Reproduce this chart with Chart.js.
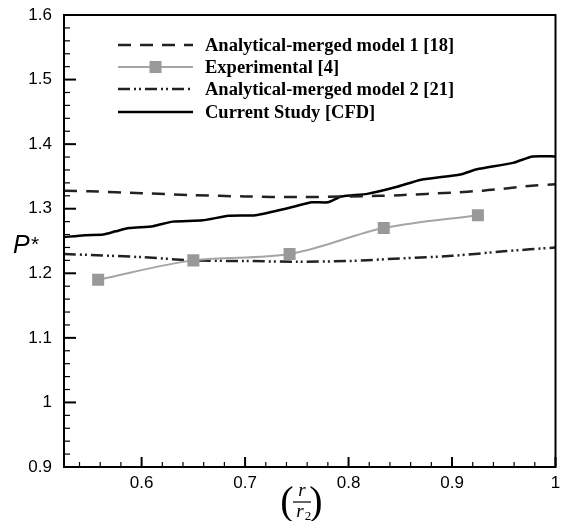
<!DOCTYPE html>
<html>
<head>
<meta charset="utf-8">
<script src="https://cdn.jsdelivr.net/npm/chart.js@4/dist/chart.umd.min.js"></script>
<style>
  html, body { margin: 0; padding: 0; background: #fff; }
  #wrap { width: 564px; height: 521px; position: relative; }
</style>
</head>
<body>
<div id="wrap"><canvas id="myChart"></canvas></div>
<script>
// values
const model1X = [0.525, 0.55, 0.6, 0.65, 0.7, 0.75, 0.8, 0.83, 0.85, 0.9, 0.93, 0.95, 0.98, 1.0];
const model1Y = [1.328, 1.327, 1.324, 1.321, 1.319, 1.318, 1.319, 1.320, 1.321, 1.325, 1.328, 1.331, 1.336, 1.338];

const expX = [0.558, 0.650, 0.743, 0.834, 0.925];
const expY = [1.19, 1.22, 1.23, 1.27, 1.29];

const model2X = [0.525, 0.6, 0.65, 0.7, 0.75, 0.8, 0.85, 0.9, 0.95, 1.0];
const model2Y = [1.230, 1.225, 1.220, 1.219, 1.218, 1.219, 1.223, 1.227, 1.234, 1.240];

const cfdX = [0.525, 0.545, 0.563, 0.575, 0.588, 0.611, 0.630, 0.659, 0.684, 0.710, 0.742, 0.764, 0.780, 0.793, 0.818, 0.847, 0.870, 0.908, 0.924, 0.959, 0.978, 1.0];
const cfdY = [1.256, 1.259, 1.260, 1.265, 1.270, 1.273, 1.280, 1.282, 1.289, 1.290, 1.301, 1.310, 1.310, 1.319, 1.323, 1.334, 1.345, 1.353, 1.361, 1.371, 1.381, 1.381];

const xTicks = [0.6, 0.7, 0.8, 0.9, 1.0];
const yTicks = [0.9, 1.0, 1.1, 1.2, 1.3, 1.4, 1.5, 1.6];

const labels = ['Analytical-merged model 1 [18]', 'Experimental [4]', 'Analytical-merged model 2 [21]', 'Current Study [CFD]'];

const pts = (xs, ys) => xs.map((x, i) => ({x: x, y: ys[i]}));
const fmt = v => String(Number(v.toFixed(2)));

const ctx = document.getElementById('myChart').getContext('2d');

const chartData = {
  datasets: [
    {
      label: labels[0],
      data: pts(model1X, model1Y),
      borderColor: '#222',
      borderWidth: 2.5,
      borderDash: [13, 9],
      pointRadius: 0,
      tension: 0.3
    },
    {
      label: labels[1],
      data: pts(expX, expY),
      borderColor: '#a5a5a5',
      backgroundColor: '#999999',
      borderWidth: 2,
      pointStyle: 'rect',
      pointRadius: 8.5,
      pointBorderWidth: 0,
      cubicInterpolationMode: 'monotone'
    },
    {
      label: labels[2],
      data: pts(model2X, model2Y),
      borderColor: '#222',
      borderWidth: 2.5,
      borderDash: [12, 4, 2, 3, 2, 4],
      pointRadius: 0,
      tension: 0.3
    },
    {
      label: labels[3],
      data: pts(cfdX, cfdY),
      borderColor: '#000',
      borderWidth: 2.5,
      pointRadius: 0,
      tension: 0.2
    }
  ]
};

// frame, inward ticks, legend and axis titles
const decorPlugin = {
  id: 'decor',
  afterDraw(chart) {
    const c = chart.ctx;
    const a = chart.chartArea;
    const xs = chart.scales.x, ys = chart.scales.y;
    c.save();
    c.strokeStyle = '#000';
    c.lineWidth = 2;
    c.strokeRect(a.left, a.top, a.right - a.left, a.bottom - a.top);

    for (let i = 27; i <= 50; i++) {
      const px = xs.getPixelForValue(i / 50);
      const major = i % 5 === 0;
      c.lineWidth = major ? 2 : 1.2;
      c.beginPath();
      c.moveTo(px, a.bottom);
      c.lineTo(px, a.bottom - (major ? 10 : 5));
      c.stroke();
    }
    for (let i = 45; i <= 80; i++) {
      const py = ys.getPixelForValue(i / 50);
      const major = i % 5 === 0;
      c.lineWidth = major ? 2 : 1.2;
      c.beginPath();
      c.moveTo(a.left, py);
      c.lineTo(a.left + (major ? 12 : 6), py);
      c.stroke();
    }

    // legend
    const lx0 = 118, lx1 = 193, tx = 205;
    const rows = [45, 67, 89, 112];
    c.font = 'bold 18.5px "Liberation Serif", serif';
    c.textBaseline = 'middle';
    c.textAlign = 'left';
    chart.data.datasets.forEach((ds, i) => {
      const y = rows[i];
      c.strokeStyle = ds.borderColor;
      c.lineWidth = ds.borderWidth;
      c.setLineDash(ds.borderDash || []);
      c.beginPath();
      c.moveTo(lx0, y);
      c.lineTo(lx1, y);
      c.stroke();
      c.setLineDash([]);
      if (ds.pointStyle === 'rect') {
        c.fillStyle = ds.backgroundColor;
        c.fillRect((lx0 + lx1) / 2 - 6, y - 6, 12, 12);
      }
      c.fillStyle = '#000';
      c.fillText(ds.label, tx, y + 1);
    });

    // y title
    c.fillStyle = '#000';
    c.textBaseline = 'alphabetic';
    c.font = 'italic 25px "Liberation Sans", sans-serif';
    c.fillText('P', 13, 253);
    c.font = '21px "Liberation Sans", sans-serif';
    c.fillText('*', 31, 251);

    // x title: (r / r2)
    const cx = 302;
    c.font = '40px "Liberation Serif", serif';
    c.textAlign = 'center';
    c.fillText('(', 287, 514);
    c.fillText(')', 316, 514);
    c.font = 'italic 19px "Liberation Serif", serif';
    c.fillText('r', cx, 496);
    c.lineWidth = 1.2;
    c.beginPath();
    c.moveTo(cx - 9, 502);
    c.lineTo(cx + 9, 502);
    c.stroke();
    c.fillText('r', cx - 2, 517);
    c.font = '13px "Liberation Serif", serif';
    c.fillText('2', cx + 6, 520);
    c.restore();
  }
};

const chartOptions = {
  responsive: true,
  maintainAspectRatio: false,
  animation: false,
  layout: { padding: { top: 15, right: 4, left: 0, bottom: 0 } },
  plugins: {
    legend: { display: false },
    tooltip: { enabled: false }
  },
  scales: {
    x: {
      type: 'linear',
      min: 0.525,
      max: 1.0,
      grid: { display: false, drawTicks: false },
      border: { display: false },
      afterBuildTicks: s => { s.ticks = xTicks.map(v => ({value: v})); },
      afterFit: s => { s.height = 54; s.paddingLeft = 0; s.paddingRight = 0; },
      ticks: {
        color: '#000',
        padding: 6,
        maxRotation: 0,
        font: { family: '"Liberation Sans", sans-serif', size: 17 },
        callback: v => fmt(v)
      }
    },
    y: {
      type: 'linear',
      min: 0.9,
      max: 1.6,
      grid: { display: false, drawTicks: false },
      border: { display: false },
      afterBuildTicks: s => { s.ticks = yTicks.map(v => ({value: v})); },
      afterFit: s => { s.width = 64; s.paddingTop = 0; s.paddingBottom = 0; },
      ticks: {
        color: '#000',
        padding: 12,
        font: { family: '"Liberation Sans", sans-serif', size: 17 },
        callback: v => fmt(v)
      }
    }
  }
};

const myChart = new Chart(ctx, {type: 'line', data: chartData, options: chartOptions, plugins: [decorPlugin]});
</script>
</body>
</html>
